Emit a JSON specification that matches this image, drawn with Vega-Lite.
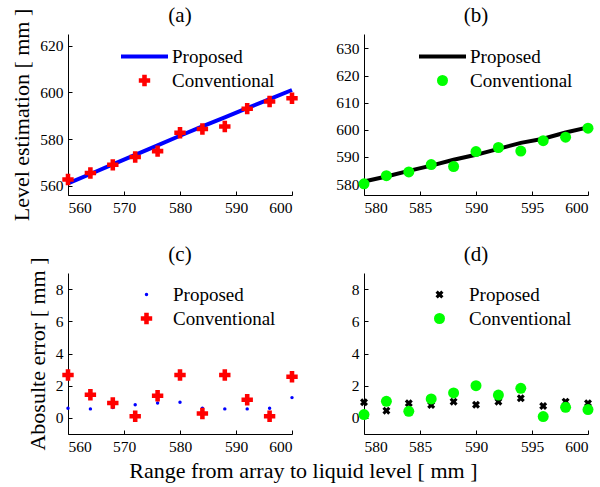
{
  "$schema": "https://vega.github.io/schema/vega-lite/v6.json",
  "padding": {"left": 10, "top": 5, "right": 5, "bottom": 3},
  "background": "white",
  "title": {"text": "Range from array to liquid level [ mm ]", "orient": "bottom", "anchor": "middle", "fontSize": 22, "fontWeight": "normal", "font": "Liberation Serif", "color": "black", "offset": 6},
  "bounds": "flush",
  "columns": 2,
  "spacing": {"row": 78, "column": 72},
  "resolve": {"scale": {"color": "independent", "shape": "independent", "size": "independent"}, "legend": {"color": "independent", "shape": "independent", "size": "independent"}},
  "datasets": {
    "a": [
      {"range": 560, "series": "Proposed", "value": 561.0},
      {"range": 564, "series": "Proposed", "value": 565.0},
      {"range": 568, "series": "Proposed", "value": 569.1},
      {"range": 572, "series": "Proposed", "value": 573.2},
      {"range": 576, "series": "Proposed", "value": 577.3},
      {"range": 580, "series": "Proposed", "value": 581.4},
      {"range": 584, "series": "Proposed", "value": 585.4},
      {"range": 588, "series": "Proposed", "value": 589.3},
      {"range": 592, "series": "Proposed", "value": 593.2},
      {"range": 596, "series": "Proposed", "value": 597.1},
      {"range": 600, "series": "Proposed", "value": 601.0},
      {"range": 560, "series": "Conventional", "value": 562.66},
      {"range": 564, "series": "Conventional", "value": 565.44},
      {"range": 568, "series": "Conventional", "value": 568.93},
      {"range": 572, "series": "Conventional", "value": 572.3},
      {"range": 576, "series": "Conventional", "value": 574.8},
      {"range": 580, "series": "Conventional", "value": 582.66},
      {"range": 584, "series": "Conventional", "value": 584.27},
      {"range": 588, "series": "Conventional", "value": 585.34},
      {"range": 592, "series": "Conventional", "value": 593.0},
      {"range": 596, "series": "Conventional", "value": 596.1},
      {"range": 600, "series": "Conventional", "value": 597.44}
    ],
    "b": [
      {"range": 580, "series": "Proposed", "value": 581.0},
      {"range": 582, "series": "Proposed", "value": 582.8},
      {"range": 584, "series": "Proposed", "value": 584.9},
      {"range": 586, "series": "Proposed", "value": 586.8},
      {"range": 588, "series": "Proposed", "value": 589.0},
      {"range": 590, "series": "Proposed", "value": 590.8},
      {"range": 592, "series": "Proposed", "value": 593.0},
      {"range": 594, "series": "Proposed", "value": 595.2},
      {"range": 596, "series": "Proposed", "value": 596.7},
      {"range": 598, "series": "Proposed", "value": 599.0},
      {"range": 600, "series": "Proposed", "value": 600.9},
      {"range": 580, "series": "Conventional", "value": 580.1},
      {"range": 582, "series": "Conventional", "value": 583.1},
      {"range": 584, "series": "Conventional", "value": 584.5},
      {"range": 586, "series": "Conventional", "value": 587.2},
      {"range": 588, "series": "Conventional", "value": 586.5},
      {"range": 590, "series": "Conventional", "value": 592.0},
      {"range": 592, "series": "Conventional", "value": 593.5},
      {"range": 594, "series": "Conventional", "value": 592.2},
      {"range": 596, "series": "Conventional", "value": 596.0},
      {"range": 598, "series": "Conventional", "value": 597.3},
      {"range": 600, "series": "Conventional", "value": 600.6}
    ],
    "c": [
      {"range": 560, "series": "Proposed", "value": 0.60},
      {"range": 564, "series": "Proposed", "value": 0.56},
      {"range": 568, "series": "Proposed", "value": 0.64},
      {"range": 572, "series": "Proposed", "value": 0.82},
      {"range": 576, "series": "Proposed", "value": 0.93},
      {"range": 580, "series": "Proposed", "value": 0.97},
      {"range": 584, "series": "Proposed", "value": 0.60},
      {"range": 588, "series": "Proposed", "value": 0.56},
      {"range": 592, "series": "Proposed", "value": 0.56},
      {"range": 596, "series": "Proposed", "value": 0.60},
      {"range": 600, "series": "Proposed", "value": 1.26},
      {"range": 560, "series": "Conventional", "value": 2.66},
      {"range": 564, "series": "Conventional", "value": 1.44},
      {"range": 568, "series": "Conventional", "value": 0.93},
      {"range": 572, "series": "Conventional", "value": 0.10},
      {"range": 576, "series": "Conventional", "value": 1.38},
      {"range": 580, "series": "Conventional", "value": 2.66},
      {"range": 584, "series": "Conventional", "value": 0.27},
      {"range": 588, "series": "Conventional", "value": 2.66},
      {"range": 592, "series": "Conventional", "value": 1.13},
      {"range": 596, "series": "Conventional", "value": 0.10},
      {"range": 600, "series": "Conventional", "value": 2.56}
    ],
    "d": [
      {"range": 580, "series": "Proposed", "value": 0.97},
      {"range": 582, "series": "Proposed", "value": 0.45},
      {"range": 584, "series": "Proposed", "value": 0.91},
      {"range": 586, "series": "Proposed", "value": 0.80},
      {"range": 588, "series": "Proposed", "value": 1.01},
      {"range": 590, "series": "Proposed", "value": 0.82},
      {"range": 592, "series": "Proposed", "value": 1.01},
      {"range": 594, "series": "Proposed", "value": 1.22},
      {"range": 596, "series": "Proposed", "value": 0.74},
      {"range": 598, "series": "Proposed", "value": 1.01},
      {"range": 600, "series": "Proposed", "value": 0.91},
      {"range": 580, "series": "Conventional", "value": 0.21},
      {"range": 582, "series": "Conventional", "value": 1.03},
      {"range": 584, "series": "Conventional", "value": 0.41},
      {"range": 586, "series": "Conventional", "value": 1.18},
      {"range": 588, "series": "Conventional", "value": 1.55},
      {"range": 590, "series": "Conventional", "value": 2.0},
      {"range": 592, "series": "Conventional", "value": 1.42},
      {"range": 594, "series": "Conventional", "value": 1.84},
      {"range": 596, "series": "Conventional", "value": 0.08},
      {"range": 598, "series": "Conventional", "value": 0.66},
      {"range": 600, "series": "Conventional", "value": 0.52}
    ]
  },
  "concat": [
    {
      "title": {"text": "(a)", "offset": -18},
      "width": 224, "height": 161,
      "data": {"name": "a"},
      "encoding": {
        "x": {"field": "range", "type": "quantitative", "scale": {"domain": [560, 600], "nice": false, "zero": false}, "axis": {"values": [560, 570, 580, 590, 600], "title": null}},
        "y": {"field": "value", "type": "quantitative", "scale": {"domain": [556, 625], "nice": false, "zero": false}, "axis": {"values": [560, 580, 600, 620], "title": "Level estimation [ mm ]"}},
        "color": {"field": "series", "type": "nominal", "scale": {"domain": ["Proposed", "Conventional"], "range": ["#0000ff", "#ff0000"]},
          "legend": {"orient": "none", "legendX": 67, "legendY": 13, "title": null, "labelOffset": 18,
            "encode": {"symbols": {"update": {
              "shape": {"signal": "datum.value === 'Proposed' ? 'stroke' : 'cross'"},
              "size": {"signal": "datum.value === 'Proposed' ? 2209 : 130"},
              "strokeWidth": {"signal": "datum.value === 'Proposed' ? 4 : 0"},
              "stroke": {"signal": "datum.value === 'Proposed' ? '#0000ff' : 'transparent'"},
              "fill": {"signal": "datum.value === 'Proposed' ? 'transparent' : '#ff0000'"},
              "opacity": {"value": 1}
            }}}}}
      },
      "layer": [
        {"transform": [{"filter": "datum.series === 'Proposed'"}], "mark": {"type": "line", "strokeWidth": 4}},
        {"transform": [{"filter": "datum.series === 'Conventional'"}], "mark": {"type": "point", "shape": "cross", "filled": true, "size": 130, "opacity": 1}}
      ]
    },
    {
      "title": {"text": "(b)", "offset": 8},
      "width": 224, "height": 161,
      "data": {"name": "b"},
      "encoding": {
        "x": {"field": "range", "type": "quantitative", "scale": {"domain": [580, 600], "nice": false, "zero": false}, "axis": {"values": [580, 585, 590, 595, 600], "title": null}},
        "y": {"field": "value", "type": "quantitative", "scale": {"domain": [576, 635.3], "nice": false, "zero": false}, "axis": {"values": [580, 590, 600, 610, 620, 630], "title": null}},
        "color": {"field": "series", "type": "nominal", "scale": {"domain": ["Proposed", "Conventional"], "range": ["#000000", "#00ff00"]},
          "legend": {"orient": "none", "legendX": 69, "legendY": 13, "title": null, "labelOffset": 18,
            "encode": {"symbols": {"update": {
              "shape": {"signal": "datum.value === 'Proposed' ? 'stroke' : 'circle'"},
              "size": {"signal": "datum.value === 'Proposed' ? 2209 : 121"},
              "strokeWidth": {"signal": "datum.value === 'Proposed' ? 4 : 0"},
              "stroke": {"signal": "datum.value === 'Proposed' ? '#000000' : 'transparent'"},
              "fill": {"signal": "datum.value === 'Proposed' ? 'transparent' : '#00ff00'"},
              "opacity": {"value": 1}
            }}}}}
      },
      "layer": [
        {"transform": [{"filter": "datum.series === 'Proposed'"}], "mark": {"type": "line", "strokeWidth": 4}},
        {"transform": [{"filter": "datum.series === 'Conventional'"}], "mark": {"type": "point", "shape": "circle", "filled": true, "size": 121, "opacity": 1}}
      ]
    },
    {
      "title": {"text": "(c)", "offset": -8},
      "width": 224, "height": 161,
      "data": {"name": "c"},
      "encoding": {
        "x": {"field": "range", "type": "quantitative", "scale": {"domain": [560, 600], "nice": false, "zero": false}, "axis": {"values": [560, 570, 580, 590, 600], "title": null}},
        "y": {"field": "value", "type": "quantitative", "scale": {"domain": [-1, 9], "nice": false, "zero": false}, "axis": {"values": [0, 2, 4, 6, 8], "title": "Abosulte error [ mm ]"}},
        "color": {"field": "series", "type": "nominal", "scale": {"domain": ["Proposed", "Conventional"], "range": ["#0000ff", "#ff0000"]},
          "legend": {"orient": "none", "legendX": 69, "legendY": 12, "title": null, "labelOffset": 17}},
        "shape": {"field": "series", "type": "nominal", "scale": {"domain": ["Proposed", "Conventional"], "range": ["circle", "cross"]},
          "legend": {"orient": "none", "legendX": 69, "legendY": 12, "title": null, "labelOffset": 17}},
        "size": {"field": "series", "type": "nominal", "scale": {"type": "ordinal", "domain": ["Proposed", "Conventional"], "range": [12, 130]},
          "legend": {"orient": "none", "legendX": 69, "legendY": 12, "title": null, "labelOffset": 17}}
      },
      "layer": [
        {"transform": [{"filter": "datum.series === 'Proposed'"}], "mark": {"type": "point", "filled": true, "opacity": 1}},
        {"transform": [{"filter": "datum.series === 'Conventional'"}], "mark": {"type": "point", "filled": true, "opacity": 1}}
      ]
    },
    {
      "title": {"text": "(d)", "offset": 8},
      "width": 224, "height": 161,
      "data": {"name": "d"},
      "encoding": {
        "x": {"field": "range", "type": "quantitative", "scale": {"domain": [580, 600], "nice": false, "zero": false}, "axis": {"values": [580, 585, 590, 595, 600], "title": null}},
        "y": {"field": "value", "type": "quantitative", "scale": {"domain": [-1, 9], "nice": false, "zero": false}, "axis": {"values": [0, 2, 4, 6, 8], "title": null}},
        "color": {"field": "series", "type": "nominal", "scale": {"domain": ["Proposed", "Conventional"], "range": ["#000000", "#00ff00"]},
          "legend": {"orient": "none", "legendX": 66, "legendY": 12, "title": null, "labelOffset": 20}},
        "shape": {"field": "series", "type": "nominal", "scale": {"domain": ["Proposed", "Conventional"], "range": ["M-1,-0.45L-0.45,-1L0,-0.55L0.45,-1L1,-0.45L0.55,0L1,0.45L0.45,1L0,0.55L-0.45,1L-1,0.45L-0.55,0Z", "circle"]},
          "legend": {"orient": "none", "legendX": 66, "legendY": 12, "title": null, "labelOffset": 20}},
        "size": {"field": "series", "type": "nominal", "scale": {"type": "ordinal", "domain": ["Proposed", "Conventional"], "range": [64, 121]},
          "legend": {"orient": "none", "legendX": 66, "legendY": 12, "title": null, "labelOffset": 20}}
      },
      "layer": [
        {"transform": [{"filter": "datum.series === 'Proposed'"}], "mark": {"type": "point", "filled": true, "opacity": 1}},
        {"transform": [{"filter": "datum.series === 'Conventional'"}], "mark": {"type": "point", "filled": true, "opacity": 1}}
      ]
    }
  ],
  "config": {
    "view": {"stroke": null},
    "font": "Liberation Serif",
    "axis": {"grid": false, "domainColor": "black", "domainWidth": 1, "tickColor": "black", "tickSize": -4, "labelPadding": 9, "labelColor": "black", "labelFont": "Liberation Serif", "labelFontSize": 15.5, "titleFont": "Liberation Serif", "titleFontSize": 22, "titleFontWeight": "normal", "titleColor": "black", "titlePadding": 6},
    "title": {"font": "Liberation Serif", "fontSize": 21, "fontWeight": "normal", "color": "black", "anchor": "middle"},
    "legend": {"labelFont": "Liberation Serif", "labelFontSize": 19, "labelColor": "black", "padding": 0, "symbolSize": 2209, "rowPadding": 4, "labelLimit": 300}
  }
}
